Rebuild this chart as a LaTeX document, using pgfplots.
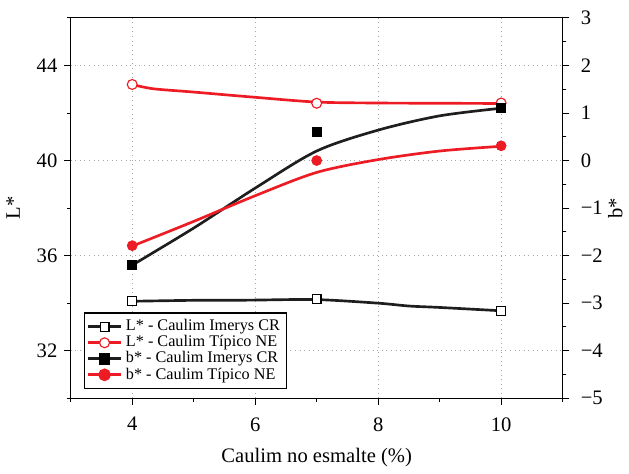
\documentclass[border=0pt]{standalone}
\usepackage{fontspec}
\setmainfont{Liberation Serif}
\usepackage{pgfplots}
\pgfplotsset{compat=1.18}
\definecolor{myred}{RGB}{237,28,36}
\definecolor{myblack}{RGB}{30,30,30}

\pgfplotsset{
  common/.style={
    width=258pt, height=199.5pt, scale only axis,
    xmin=3, xmax=11,
    tick align=outside,
    major tick length=3.5pt, minor tick length=2pt,
    every tick/.style={black, line width=0.5pt},
    axis line style={line width=0.6pt},
    tick label style={font=\fontsize{10.8}{12}\selectfont},
    label style={font=\fontsize{10.8}{12}\selectfont},
    /pgf/number format/assume math mode=true,
  }
}

\begin{document}
\begin{tikzpicture}
\begin{axis}[
  common,
  ymin=30, ymax=46,
  xtick={4,6,8,10}, minor xtick={3,5,7,9,11},
  ytick={32,36,40,44}, minor ytick={30,34,38,42,46},
  xtick pos=bottom, ytick pos=left,
  xmajorgrids, ymajorgrids,
  grid style={dotted, gray!70, line width=0.5pt},
  xticklabel style={yshift=-3pt},
  xlabel={Caulim no esmalte (\%)},
  xlabel style={yshift=-2pt},
  ylabel={L*},
  ylabel style={yshift=2pt},
]
% curves
\addplot[myblack, line width=1.4pt, smooth] coordinates {
 (4,34.08) (5,34.12) (5.6,34.12) (6,34.13) (7,34.15) (8,34.0) (8.5,33.88) (9,33.82) (10,33.68)};
\addplot[myred, line width=1.4pt, smooth] coordinates {
 (4,43.2) (4.34,43.02) (5,42.88) (6,42.66) (7,42.46) (8,42.42) (9,42.41) (10,42.4)};
% markers
\addplot[only marks, mark=square*, mark size=2.3pt, mark options={fill=white, draw=black, line width=0.6pt}] coordinates {
 (4,34.08) (7,34.18) (10,33.68)};
\addplot[only marks, mark=*, mark size=2.6pt, mark options={fill=white, draw=myred, line width=0.6pt}] coordinates {
 (4,43.2) (7,42.41) (10,42.42)};
\end{axis}

\begin{axis}[
  common,
  ymin=-5, ymax=3,
  axis x line=none,
  axis y line*=right,
  ytick={-5,-4,-3,-2,-1,0,1,2,3},
  yticklabels={−5,−4,−3,−2,−1,0,1,2,3},
  minor ytick={-4.5,-3.5,-2.5,-1.5,-0.5,0.5,1.5,2.5},
  yticklabel style={xshift=2.5pt},
  ylabel={b*},
  ylabel style={yshift=4pt},
  legend style={at={(0.026,0.024)}, anchor=south west, draw=black, line width=0.6pt,
    fill=white, font=\fontsize{8.5}{9}\selectfont, inner sep=1.5pt, row sep=-3pt,
    cells={anchor=west}},
  legend cell align=left,
]
\addlegendimage{myblack, line width=1.4pt, mark=square*, mark size=2.3pt, mark options={fill=white, draw=black, line width=0.6pt}}
\addlegendentry{L* - Caulim Imerys CR}
\addlegendimage{myred, line width=1.4pt, mark=*, mark size=2.6pt, mark options={fill=white, draw=myred, line width=0.6pt}}
\addlegendentry{L* - Caulim Típico NE}
\addlegendimage{myblack, line width=1.4pt, mark=square*, mark size=2.3pt, mark options={fill=black, draw=black}}
\addlegendentry{b* - Caulim Imerys CR}
\addlegendimage{myred, line width=1.4pt, mark=*, mark size=2.6pt, mark options={fill=myred, draw=myred}}
\addlegendentry{b* - Caulim Típico NE}
% curves
\addplot[myblack, line width=1.4pt, smooth, forget plot] coordinates {
 (4,-2.2) (5,-1.42) (6,-0.58) (7,0.2) (8,0.64) (9,0.94) (10,1.1)};
\addplot[myred, line width=1.4pt, smooth, forget plot] coordinates {
 (4,-1.8) (5,-1.28) (6,-0.74) (7,-0.25) (8,0.02) (9,0.2) (10,0.3)};
% markers
\addplot[only marks, mark=square*, mark size=2.3pt, black, forget plot] coordinates {
 (4,-2.2) (7,0.6) (10,1.1)};
\addplot[only marks, mark=*, mark size=2.6pt, myred, forget plot] coordinates {
 (4,-1.79) (7,0.0) (10,0.31)};
\end{axis}
\path ([yshift=9.4pt]current axis.north);
\end{tikzpicture}
\end{document}
